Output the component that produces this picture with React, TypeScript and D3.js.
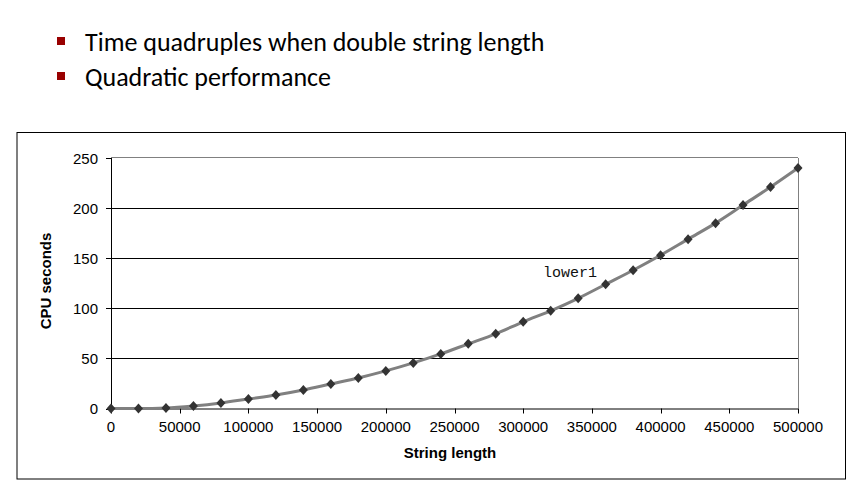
import React from "react";
import * as d3 from "d3";

const xValues = [0, 20000, 40000, 60000, 80000, 100000, 120000, 140000, 160000, 180000, 200000, 220000, 240000, 260000, 280000, 300000, 320000, 340000, 360000, 380000, 400000, 420000, 440000, 460000, 480000, 500000];
const cpuSeconds = [0, 0, 0.5, 2.5, 5.5, 9.5, 13.5, 18.5, 24.5, 30.5, 37.5, 45.5, 54.5, 64.5, 74.5, 86.5, 97.5, 110, 124, 138, 153, 169, 185, 203, 221, 240];
const xTicks = [0, 50000, 100000, 150000, 200000, 250000, 300000, 350000, 400000, 450000, 500000];
const yTicks = [0, 50, 100, 150, 200, 250];
const bullets = ["Time quadruples when double string length", "Quadratic performance"];
const seriesLabel = "lower1";
const xTitle = "String length";
const yTitle = "CPU seconds";

export default function App() {
  const W = 862, H = 491;
  const left = 111, right = 798, top = 158, bottom = 408.5;
  const x = d3.scaleLinear().domain([0, 500000]).range([left, right]);
  const y = d3.scaleLinear().domain([0, 250]).range([bottom, top]);
  const pts = xValues.map((v, i) => [x(v), y(cpuSeconds[i])] as [number, number]);
  const line = d3.line().curve(d3.curveMonotoneX)(pts) || "";
  const axisFont = "'Liberation Sans', Arial, sans-serif";
  return (
    <svg width={W} height={H} style={{ position: "absolute", left: 0, top: 0 }}>
      <rect x={0} y={0} width={W} height={H} fill="#fff" />
      {bullets.map((b, i) => (
        <g key={i}>
          <rect x={57} y={37 + i * 35} width={8} height={8} fill="#990000" />
          <text x={85} y={51 + i * 35} fontFamily="Carlito, Lato, 'Open Sans', sans-serif" fontSize={26} fill="#000">{b}</text>
        </g>
      ))}
      <rect x={17} y={132.5} width={828.5} height={346.5} fill="#fff" stroke="#000" strokeWidth={1} />
      {yTicks.filter((t) => t > 0 && t < 250).map((t) => (
        <line key={t} x1={left} x2={right} y1={Math.round(y(t)) + 0.5} y2={Math.round(y(t)) + 0.5} stroke="#000" strokeWidth={1} />
      ))}
      <line x1={left} x2={right} y1={top - 0.5} y2={top - 0.5} stroke="#808080" />
      <line x1={right + 0.5} x2={right + 0.5} y1={top} y2={bottom} stroke="#808080" />
      <line x1={left + 0.5} x2={left + 0.5} y1={top} y2={bottom} stroke="#000" />
      <line x1={left} x2={right} y1={bottom + 0.5} y2={bottom + 0.5} stroke="#000" />
      {yTicks.map((t) => (
        <g key={t}>
          <line x1={left - 5} x2={left} y1={Math.round(y(t)) + 0.5} y2={Math.round(y(t)) + 0.5} stroke="#000" />
          <text x={98} y={y(t) + 5.5} textAnchor="end" fontFamily={axisFont} fontSize={15} fill="#000">{t}</text>
        </g>
      ))}
      {xTicks.map((t) => (
        <g key={t}>
          <line x1={Math.round(x(t)) + 0.5} x2={Math.round(x(t)) + 0.5} y1={bottom} y2={bottom + 5} stroke="#000" />
          <text x={x(t)} y={432} textAnchor="middle" fontFamily={axisFont} fontSize={15} fill="#000">{t}</text>
        </g>
      ))}
      <path d={line} fill="none" stroke="#808080" strokeWidth={3} />
      {pts.map(([px, py], i) => (
        <path key={i} d={`M${px},${py - 5}L${px + 4.5},${py}L${px},${py + 5}L${px - 4.5},${py}Z`} fill="#333" />
      ))}
      <text x={543} y={277} fontFamily="'Courier New', 'Liberation Mono', monospace" fontSize={15} fill="#111">{seriesLabel}</text>
      <text x={450} y={458} textAnchor="middle" fontFamily={axisFont} fontSize={15} fontWeight="bold" fill="#000">{xTitle}</text>
      <text transform={`translate(51,281) rotate(-90)`} textAnchor="middle" fontFamily={axisFont} fontSize={15} fontWeight="bold" fill="#000">{yTitle}</text>
    </svg>
  );
}
